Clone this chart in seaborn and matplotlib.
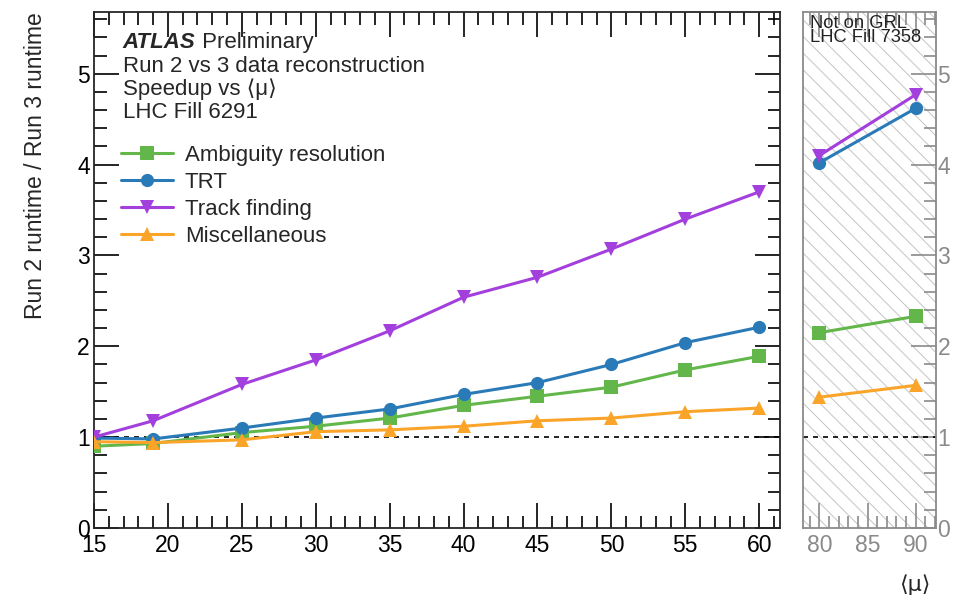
import pandas as pd
import numpy as np
import matplotlib
matplotlib.use("Agg")
import matplotlib.pyplot as plt
from matplotlib.lines import Line2D
from matplotlib.patches import Rectangle
from matplotlib.ticker import MultipleLocator
import seaborn as sns

# ---------------- data ----------------
mu_fill6291 = [15, 19, 25, 30, 35, 40, 45, 50, 55, 60]
ambiguity = [0.90, 0.93, 1.05, 1.12, 1.21, 1.35, 1.45, 1.55, 1.74, 1.89]
trt = [0.99, 0.98, 1.10, 1.21, 1.31, 1.47, 1.60, 1.80, 2.04, 2.21]
track_finding = [1.00, 1.18, 1.58, 1.85, 2.17, 2.54, 2.76, 3.07, 3.40, 3.70]
misc = [0.95, 0.94, 0.97, 1.06, 1.08, 1.12, 1.18, 1.21, 1.28, 1.32]

mu_fill7358 = [80, 90]
ambiguity_7358 = [2.15, 2.33]
trt_7358 = [4.02, 4.62]
track_finding_7358 = [4.10, 4.77]
misc_7358 = [1.44, 1.57]

steps = ["Ambiguity resolution", "TRT", "Track finding", "Miscellaneous"]
colors = ["#63b74a", "#2a7ab8", "#a33fdc", "#fba42a"]
markers = ["s", "o", "v", "^"]

sns.set_theme(style="ticks")
plt.rcParams['font.family'] = ['Liberation Sans', 'DejaVu Sans']
plt.rcParams['hatch.linewidth'] = 0.7


def long_table(mu, series):
    rows = []
    for name, vals in zip(steps, series):
        for m, v in zip(mu, vals):
            rows.append({"mu": m, "speedup": v, "step": name})
    return pd.DataFrame(rows)


df_a = long_table(mu_fill6291, [ambiguity, trt, track_finding, misc])
df_b = long_table(mu_fill7358, [ambiguity_7358, trt_7358, track_finding_7358, misc_7358])

pal = dict(zip(steps, colors))
mk = dict(zip(steps, markers))

fig = plt.figure(figsize=(9.55, 6.05), dpi=100)
ax = fig.add_axes([0.0984, 0.1273, 0.7183, 0.8529])
ax2 = fig.add_axes([0.8408, 0.1273, 0.1393, 0.8529])

# left panel
ax.axhline(1, color="black", ls=(0, (3, 3)), lw=1.2, zorder=1)
sns.lineplot(data=df_a, x="mu", y="speedup", hue="step", style="step",
             palette=pal, markers=mk, dashes=False, markersize=9.5,
             markeredgewidth=0, lw=2.2, legend=False, ax=ax, zorder=3)
ax.set_xlim(15, 61.4)
ax.set_ylim(0, 5.68)
ax.xaxis.set_major_locator(MultipleLocator(5))
ax.xaxis.set_minor_locator(MultipleLocator(1))
ax.yaxis.set_major_locator(MultipleLocator(1))
ax.yaxis.set_minor_locator(MultipleLocator(0.2))
ax.tick_params(which="both", direction="in", top=True, right=True,
               labelsize=16.5, colors="black", width=1.2)
ax.tick_params(which="major", length=18)
ax.tick_params(which="minor", length=9)
ax.tick_params(axis="x", pad=4)
ax.tick_params(axis="y", pad=3)
for s in ax.spines.values():
    s.set_linewidth(1.3)
ax.set_xlabel("")
ax.set_ylabel("")

atlas = ax.text(0.042, 0.962, "ATLAS", transform=ax.transAxes,
                fontsize=16, fontweight="bold", fontstyle="italic",
                va="top", ha="left")
ax.annotate(" Preliminary", xy=(1, 0), xycoords=atlas, fontsize=16,
            va="bottom", ha="left")
ax.text(0.042, 0.914, "Run 2 vs 3 data reconstruction\nSpeedup vs \u27e8\u03bc\u27e9\nLHC Fill 6291",
        transform=ax.transAxes, fontsize=16, va="top", ha="left",
        linespacing=1.08)

handles = [Line2D([], [], color=c, marker=m, lw=2.2, markersize=9.5, markeredgewidth=0)
           for c, m in zip(colors, markers)]
ax.legend(handles, steps, loc="upper left", bbox_to_anchor=(0.04, 0.742),
          frameon=False, fontsize=16, handlelength=2.3, handletextpad=0.55,
          labelspacing=0.27, borderaxespad=0, borderpad=0)

# right panel (hatched)
ax2.add_patch(Rectangle((0, 0), 1, 1, transform=ax2.transAxes, fill=False,
                        hatch="\\\\", edgecolor="#c4c4c4", lw=0, zorder=0))
ax2.axhline(1, color="black", ls=(0, (3, 3)), lw=1.2, zorder=1)
sns.lineplot(data=df_b, x="mu", y="speedup", hue="step", style="step",
             palette=pal, markers=mk, dashes=False, markersize=9.5,
             markeredgewidth=0, lw=2.2, legend=False, ax=ax2, zorder=3)
ax2.set_xlim(78.3, 92.1)
ax2.set_ylim(0, 5.68)
ax2.xaxis.set_major_locator(MultipleLocator(5))
ax2.xaxis.set_minor_locator(MultipleLocator(1))
ax2.yaxis.set_major_locator(MultipleLocator(1))
ax2.yaxis.set_minor_locator(MultipleLocator(0.2))
ax2.yaxis.tick_right()
ax2.tick_params(which="both", direction="in", top=True, left=True, right=True,
                labelleft=False, labelright=True, labelsize=16.5,
                colors="#8a8a8a", width=1.2)
ax2.tick_params(which="major", length=18)
ax2.tick_params(which="minor", length=9)
ax2.tick_params(axis="x", pad=4)
ax2.tick_params(axis="y", which="both", left=False, pad=1)
for s in ax2.spines.values():
    s.set_color("#8a8a8a")
    s.set_linewidth(1.3)
ax2.set_xlabel("")
ax2.set_ylabel("")
ax2.text(0.05, 0.995, "Not on GRL\nLHC Fill 7358", transform=ax2.transAxes,
         fontsize=13.2, va="top", ha="left", linespacing=0.82, color="#222222")

fig.text(0.037, 0.98, "Run 2 runtime / Run 3 runtime", rotation=90,
         fontsize=16.5, ha="center", va="top")
fig.text(0.958, 0.033, "\u27e8\u03bc\u27e9", fontsize=16, ha="center", va="center",
         family=["DejaVu Sans"])

fig.savefig("out.png", dpi=100)
